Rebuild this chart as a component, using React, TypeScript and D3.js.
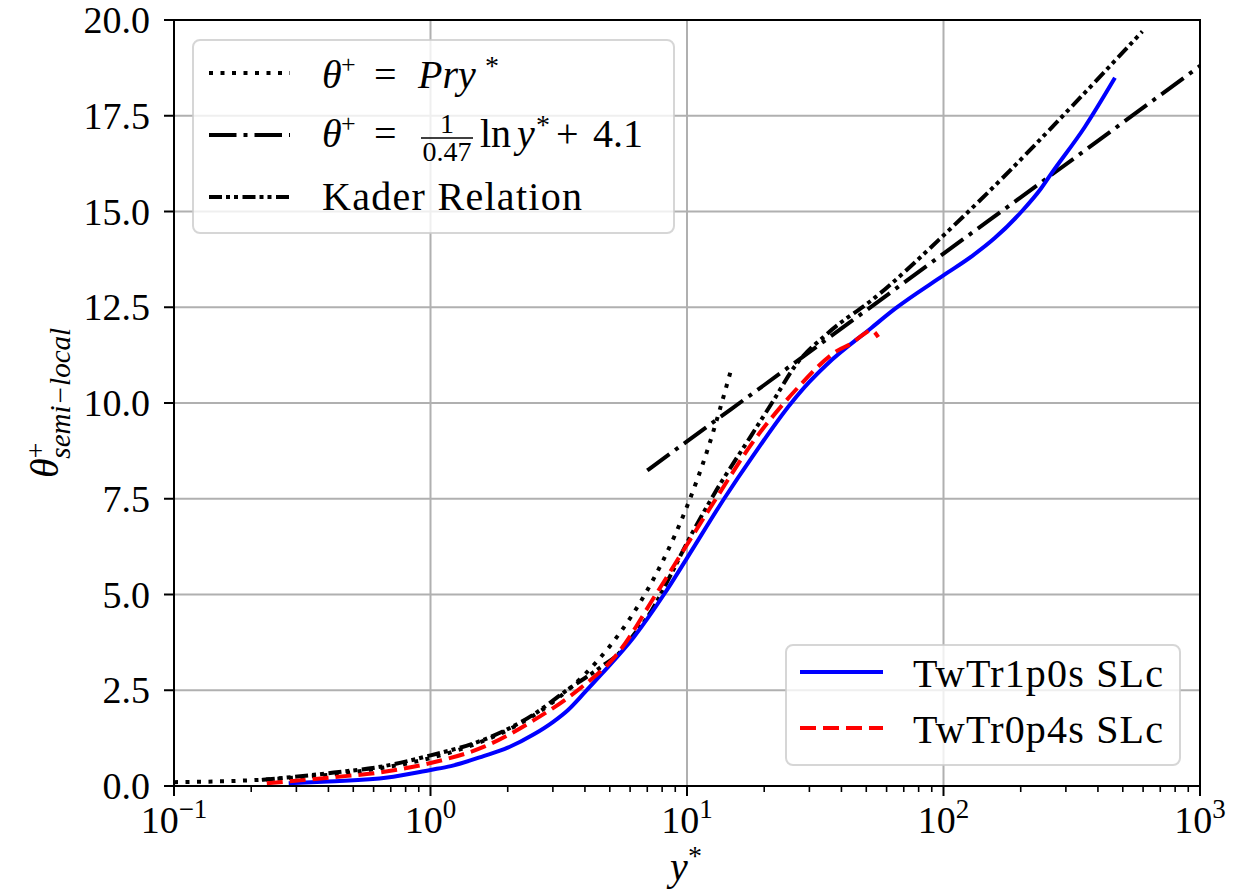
import React from "react";
import * as d3 from "d3";

// ---------- data ----------
// theta+ = Pr y*  (dotted)
const prLaw: [number, number][] = [
  [0.1, 0.1], [0.15, 0.12], [0.2, 0.15], [0.3, 0.22], [0.5, 0.365], [0.7, 0.51],
  [1, 0.73], [1.5, 1.1], [2, 1.46], [3, 2.19], [4, 2.92], [5, 3.65], [6, 4.38],
  [7, 5.11], [8, 5.84], [10, 7.3], [12, 8.76], [14.9, 10.9],
];
// theta+ = 1/0.47 ln y* + 4.1 (dash-dot)
const logLaw: [number, number][] = [
  [7, 8.24], [10, 9.0], [20, 10.47], [50, 12.42], [100, 13.9], [200, 15.37], [500, 17.32], [1000, 18.8],
];
// Kader relation (dash-dot-dot)
const kader: [number, number][] = [
  [0.22, 0.16], [0.42, 0.35], [0.66, 0.52], [1, 0.8], [1.6, 1.2], [2.5, 1.85], [3.4, 2.5],
  [4.6, 3.1], [5.5, 3.5], [6.2, 3.95], [7, 4.4], [8.7, 5.55], [10, 6.35], [12.7, 7.6],
  [17.8, 9.15], [21.9, 10.1], [26.2, 10.94], [35.5, 11.83], [54, 12.75], [104.6, 14.5],
  [168.5, 15.85], [297, 17.55], [596, 19.7],
];
// TwTr1p0s SLc (blue solid)
const twtr1p0s: [number, number][] = [
  [0.28, 0.07], [0.4, 0.12], [0.68, 0.22], [1.0, 0.42], [1.2, 0.52], [1.61, 0.78], [2.0, 1.0],
  [2.53, 1.35], [3.0, 1.67], [3.43, 1.98], [4.0, 2.45], [4.61, 2.9], [6.21, 3.89], [8.13, 5.0],
  [10, 5.95], [13.95, 7.5], [18, 8.6], [25.5, 10.0], [30, 10.55], [35, 11.0], [52.3, 11.96],
  [64.4, 12.45], [100.9, 13.35], [130, 13.85], [158, 14.3], [201.7, 15.0], [240, 15.6], [264, 16.0],
  [355, 17.2], [466, 18.49],
];
// TwTr0p4s SLc (red dashed)
const twtr0p4s: [number, number][] = [
  [0.23, 0.07], [0.42, 0.23], [0.66, 0.37], [1.0, 0.6], [1.61, 1.02], [2.53, 1.72], [3.75, 2.5],
  [5.38, 3.47], [7.56, 5.0], [10, 6.3], [12.97, 7.5], [18.3, 9.03], [23.9, 10.0], [26.2, 10.3],
  [38.9, 11.38], [43.6, 11.55], [49, 11.8], [52.3, 11.9], [55.7, 11.72],
];

const xTickExps = [-1, 0, 1, 2, 3];
const yTicks = [0, 2.5, 5, 7.5, 10, 12.5, 15, 17.5, 20];

// ---------- layout ----------
const W = 1236, H = 890;
const L = 174, R = 1200, T = 20, B = 786;
const FONT = "'Liberation Serif', 'Times New Roman', serif";

export default function App() {
  const x = d3.scaleLog().domain([0.1, 1000]).range([L, R]);
  const y = d3.scaleLinear().domain([0, 20]).range([B, T]);
  const line = d3.line<[number, number]>()
    .x(d => x(d[0]))
    .y(d => y(d[1]))
    .curve(d3.curveMonotoneX);

  const minor: number[] = [];
  for (let e = -1; e < 3; e++) for (let k = 2; k <= 9; k++) minor.push(k * Math.pow(10, e));

  const grid = "#b0b0b0";
  const lw = 4;
  const styles = {
    dotted: "4 7.5",
    dashdot: "27.5 7 4 7",
    dashdotdot: "13 4 4 4 4 4.5",
    dashed: "16 7",
  };

  return (
    <svg width={W} height={H} style={{ position: "absolute", left: 0, top: 0, background: "#fff" }} fontFamily={FONT}>
      <defs>
        <clipPath id="plotclip"><rect x={L} y={T} width={R - L} height={B - T} /></clipPath>
      </defs>
      <rect x={0} y={0} width={W} height={H} fill="#fff" />
      {/* grid */}
      {xTickExps.map(e => (
        <line key={"gx" + e} x1={x(Math.pow(10, e))} x2={x(Math.pow(10, e))} y1={T} y2={B} stroke={grid} strokeWidth={2} />
      ))}
      {yTicks.map(v => (
        <line key={"gy" + v} x1={L} x2={R} y1={y(v)} y2={y(v)} stroke={grid} strokeWidth={2} />
      ))}
      {/* curves */}
      <g clipPath="url(#plotclip)" fill="none">
        <path d={line(prLaw) || ""} stroke="#000" strokeWidth={lw} strokeDasharray={styles.dotted} />
        <path d={line(logLaw) || ""} stroke="#000" strokeWidth={lw} strokeDasharray={styles.dashdot} />
        <path d={line(kader) || ""} stroke="#000" strokeWidth={lw} strokeDasharray={styles.dashdotdot} />
        <path d={line(twtr1p0s) || ""} stroke="#0000ff" strokeWidth={lw} />
        <path d={line(twtr0p4s) || ""} stroke="#ff0000" strokeWidth={lw} strokeDasharray={styles.dashed} />
      </g>
      {/* spines */}
      <rect x={L} y={T} width={R - L} height={B - T} fill="none" stroke="#000" strokeWidth={2} />
      {/* x ticks */}
      {xTickExps.map(e => (
        <line key={"tx" + e} x1={x(Math.pow(10, e))} x2={x(Math.pow(10, e))} y1={B} y2={B + 10} stroke="#000" strokeWidth={2} />
      ))}
      {minor.map((v, i) => (
        <line key={"mx" + i} x1={x(v)} x2={x(v)} y1={B} y2={B + 6} stroke="#000" strokeWidth={1.6} />
      ))}
      {xTickExps.map(e => (
        <text key={"lx" + e} x={x(Math.pow(10, e))} y={833} textAnchor="middle" fontSize={38}>
          <tspan>10</tspan>
          <tspan dy={-15} fontSize={27}>{e < 0 ? "\u2212" + Math.abs(e) : String(e)}</tspan>
        </text>
      ))}
      {/* y ticks */}
      {yTicks.map(v => (
        <g key={"ty" + v}>
          <line x1={L - 10} x2={L} y1={y(v)} y2={y(v)} stroke="#000" strokeWidth={2} />
          <text x={150} y={y(v) + 13} textAnchor="end" fontSize={38}>{d3.format(".1f")(v)}</text>
        </g>
      ))}
      {/* axis labels */}
      <text x={686} y={880} textAnchor="middle" fontSize={40}>
        <tspan fontStyle="italic">y</tspan>
        <tspan dy={-15} fontSize={28}>*</tspan>
      </text>
      <text transform="translate(58,403) rotate(-90)" textAnchor="middle" fontSize={40}>
        <tspan fontStyle="italic">θ</tspan>
        <tspan dy={-13} fontSize={28}>+</tspan>
        <tspan dx={-16} dy={25} fontSize={29} fontStyle="italic">semi−local</tspan>
      </text>

      {/* legend 1 */}
      <rect x={193} y={40} width={481} height={193} rx={7} fill="#fff" fillOpacity={0.8} stroke="#cccccc" strokeOpacity={0.8} strokeWidth={2} />
      <line x1={209} x2={290} y1={73} y2={73} stroke="#000" strokeWidth={lw} strokeDasharray={styles.dotted} />
      <line x1={209} x2={290} y1={135} y2={135} stroke="#000" strokeWidth={lw} strokeDasharray={styles.dashdot} />
      <line x1={209} x2={290} y1={197} y2={197} stroke="#000" strokeWidth={lw} strokeDasharray={styles.dashdotdot} />
      {/* row 1 */}
      <text x={322} y={88} fontSize={40} fontStyle="italic">θ</text>
      <text x={341} y={73} fontSize={26}>+</text>
      <text x={374} y={88} fontSize={40}>=</text>
      <text x={418} y={88} fontSize={40} fontStyle="italic">Pry</text>
      <text x={485} y={75} fontSize={28}>*</text>
      {/* row 2 */}
      <text x={322} y={147} fontSize={40} fontStyle="italic">θ</text>
      <text x={341} y={132} fontSize={26}>+</text>
      <text x={374} y={147} fontSize={40}>=</text>
      <text x={447} y={133} fontSize={28} textAnchor="middle">1</text>
      <line x1={421} x2={473} y1={138} y2={138} stroke="#000" strokeWidth={1.6} />
      <text x={447} y={161} fontSize={28} textAnchor="middle">0.47</text>
      <text x={480} y={147} fontSize={40}>ln</text>
      <text x={517} y={147} fontSize={40} fontStyle="italic">y</text>
      <text x={536} y={134} fontSize={28}>*</text>
      <text x={556} y={147} fontSize={40}>+</text>
      <text x={593} y={147} fontSize={40}>4.1</text>
      {/* row 3 */}
      <text x={322} y={210} fontSize={40} textLength={260}>Kader Relation</text>

      {/* legend 2 */}
      <rect x={786} y={645} width={394} height={120} rx={7} fill="#fff" fillOpacity={0.8} stroke="#cccccc" strokeOpacity={0.8} strokeWidth={2} />
      <line x1={800} x2={883} y1={672} y2={672} stroke="#0000ff" strokeWidth={lw} />
      <line x1={800} x2={883} y1={728} y2={728} stroke="#ff0000" strokeWidth={lw} strokeDasharray={styles.dashed} />
      <text x={913} y={687} fontSize={40} textLength={250}>TwTr1p0s SLc</text>
      <text x={913} y={743} fontSize={40} textLength={250}>TwTr0p4s SLc</text>
    </svg>
  );
}
